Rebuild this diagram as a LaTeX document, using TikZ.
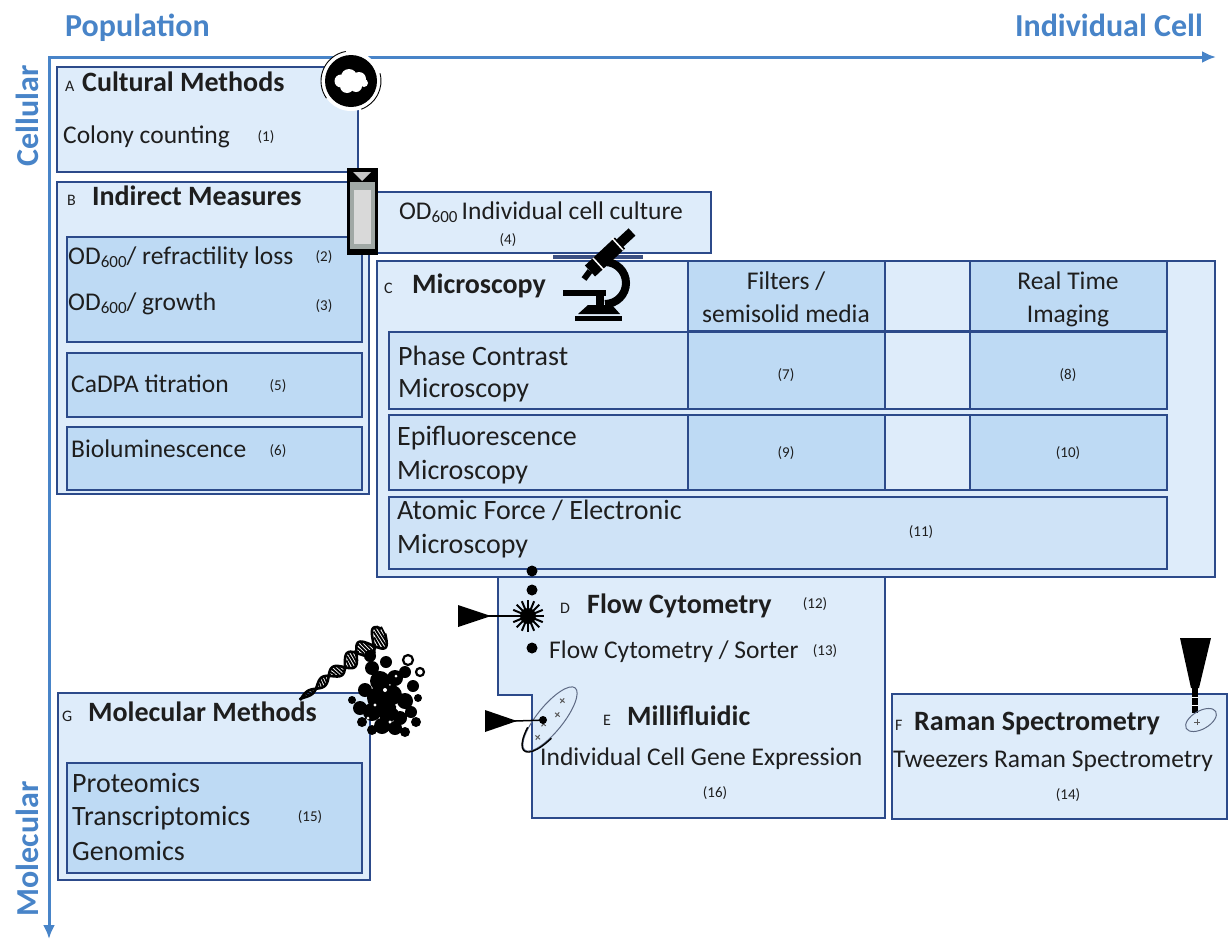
\documentclass[tikz,border=0pt]{standalone}
\usepackage{fontspec}
\setmainfont{Carlito}
\usetikzlibrary{arrows.meta}
\definecolor{axblue}{RGB}{72,132,200}
\definecolor{bfill}{RGB}{222,236,250}
\definecolor{cfill}{RGB}{190,218,244}
\definecolor{mfill}{RGB}{207,227,247}
\definecolor{bline}{RGB}{44,74,138}
\definecolor{txt}{RGB}{30,30,30}
\definecolor{tubegray}{RGB}{160,168,165}
\definecolor{slidebar}{RGB}{60,80,130}
\newcommand\fbody{\fontsize{25.5}{30}\selectfont}
\newcommand\fbig{\fontsize{28}{33}\selectfont}
\newcommand\ftitle{\fontsize{28}{33}\selectfont\bfseries}
\newcommand\ftag{\fontsize{16}{19}\selectfont}
\newcommand\fsmall{\fontsize{15}{18}\selectfont}
\newcommand\faxis{\fontsize{32}{36}\selectfont\bfseries}
\newcommand\subsix{\raisebox{-0.3ex}{\fontsize{17}{17}\selectfont 600}}
\newcommand\boxat[6]{\node[#2, anchor=north west, minimum width=#5pt-#3pt, minimum height=#6pt-#4pt] (#1) at (#3,-#4) {};}
\tikzset{
 outerbox/.style={draw=bline, fill=bfill, line width=2.2pt, inner sep=0pt, outer sep=0pt},
 cellbox/.style={draw=bline, fill=cfill, line width=2pt, inner sep=0pt, outer sep=0pt},
 midbox/.style={draw=bline, fill=mfill, line width=2pt, inner sep=0pt, outer sep=0pt},
 plainbox/.style={draw=bline, fill=bfill, line width=2pt, inner sep=0pt, outer sep=0pt},
 lbl/.style={anchor=base west, inner sep=0pt, text=txt, font=\fbody},
 lblb/.style={anchor=base west, inner sep=0pt, text=txt, font=\fbig},
 ttl/.style={anchor=base west, inner sep=0pt, text=txt, font=\ftitle},
 tag/.style={anchor=base west, inner sep=0pt, text=txt, font=\ftag},
 num/.style={anchor=center, inner sep=0pt, text=txt, font=\fsmall},
 axlbl/.style={inner sep=0pt, text=axblue, font=\faxis},
 axisline/.style={draw=axblue, line width=3pt, {Latex[length=14pt,width=12pt]}-{Latex[length=14pt,width=12pt]}},
}
\begin{document}
\begin{tikzpicture}[x=1pt,y=1pt]
\useasboundingbox (0,0) rectangle (1229,-940);
\fill[white] (0,0) rectangle (1229,-940);

% axes
\coordinate (O) at (49,-57);
\coordinate (Xend) at (1216,-57);
\coordinate (Yend) at (49,-939);
\draw[axisline] (Yend) -- (O) -- (Xend);
\node[axlbl, anchor=base west] (pop) at (65,-36) {Population};
\node[axlbl, anchor=base east] (ind) at (1203,-36) {Individual Cell};
\node[axlbl, rotate=90] (cel) at (27,-116) {Cellular};
\node[axlbl, rotate=90] (mol) at (27,-849) {Molecular};

% A
\boxat{A}{outerbox}{57}{67}{358}{172}
\node[tag] (Atag) at (65,-91) {A};
\node[ttl] (Attl) at (82,-91) {Cultural Methods};
\node[lbl] (A1) at (63,-143) {Colony counting};
\node[num] (n1) at (266,-137) {(1)};

% B
\boxat{B}{outerbox}{57}{182}{369}{494}
\node[tag] (Btag) at (67,-205) {B};
\node[ttl] (Bttl) at (92,-205) {Indirect Measures};
\boxat{B1}{cellbox}{67}{237}{362}{342}
\node[lbl] (B1a) at (68,-264) {OD\subsix/ refractility loss};
\node[num] (n2) at (324,-257) {(2)};
\node[lbl] (B1b) at (68,-310) {OD\subsix/ growth};
\node[num] (n3) at (324,-306) {(3)};
\boxat{B2}{cellbox}{67}{353}{362}{417}
\node[lbl] (B2a) at (71,-392) {CaDPA titration};
\node[num] (n5) at (278,-386) {(5)};
\boxat{B3}{cellbox}{67}{427}{362}{490}
\node[lbl] (B3a) at (71,-457) {Bioluminescence};
\node[num] (n6) at (278,-451) {(6)};

% OD individual
\boxat{OD}{plainbox}{372}{192}{711}{253}
\node[lbl, anchor=base] (ODt) at (541,-219) {OD\subsix\,Individual cell culture};
\node[num] (n4) at (508,-240) {(4)};

% D/E polygon
\path[draw=bline, fill=bfill, line width=2.2pt] (498,-577) -- (498,-695) -- (532,-695) -- (532,-818) -- (885,-818) -- (885,-577);

% C
\boxat{C}{outerbox}{377}{261}{1215}{577}
\boxat{H1}{cellbox}{688}{261}{885}{331}
\boxat{H2}{plainbox}{885}{261}{970}{331}
\boxat{H3}{cellbox}{970}{261}{1167}{331}
\boxat{R1}{midbox}{389}{332}{1167}{409}
\boxat{R1a}{cellbox}{688}{332}{885}{409}
\boxat{R1b}{plainbox}{885}{332}{970}{409}
\boxat{R1c}{cellbox}{970}{332}{1167}{409}
\boxat{R2}{midbox}{389}{415}{1167}{490}
\boxat{R2a}{cellbox}{688}{415}{885}{490}
\boxat{R2b}{plainbox}{885}{415}{970}{490}
\boxat{R2c}{cellbox}{970}{415}{1167}{490}
\boxat{R3}{midbox}{389}{497}{1167}{569}
\node[tag] (Ctag) at (384,-293) {C};
\node[ttl] (Cttl) at (412,-293) {Microscopy};
\node[lbl, anchor=base] (h1a) at (786,-289) {Filters /};
\node[lbl, anchor=base] (h1b) at (786,-322) {semisolid media};
\node[lbl, anchor=base] (h3a) at (1068,-289) {Real Time};
\node[lbl, anchor=base] (h3b) at (1068,-322) {Imaging};
\node[lblb] (r1a) at (398,-365) {Phase Contrast};
\node[lblb] (r1b) at (398,-397) {Microscopy};
\node[lblb] (r2a) at (397,-445) {Epifluorescence};
\node[lblb] (r2b) at (397,-479) {Microscopy};
\node[lblb] (r3a) at (397,-519) {Atomic Force / Electronic};
\node[lblb] (r3b) at (397,-553) {Microscopy};
\node[num] (n7) at (786,-375) {(7)};
\node[num] (n8) at (1068,-375) {(8)};
\node[num] (n9) at (786,-453) {(9)};
\node[num] (n10) at (1068,-453) {(10)};
\node[num] (n11) at (921,-532) {(11)};

% D/E texts
\node[tag] (Dtag) at (560,-613) {D};
\node[ttl] (Dttl) at (587,-613) {Flow Cytometry};
\node[num] (n12) at (815,-604) {(12)};
\node[lbl] (D1) at (549,-658) {Flow Cytometry / Sorter};
\node[num] (n13) at (825,-651) {(13)};
\node[tag] (Etag) at (603,-725) {E};
\node[ttl] (Ettl) at (627,-725) {Millifluidic};
\node[lbl] (E1) at (540,-765) {Individual Cell Gene Expression};
\node[num] (n16) at (715,-793) {(16)};

% F
\boxat{F}{outerbox}{892}{694}{1227}{819}
\node[tag] (Ftag) at (895,-730) {F};
\node[ttl] (Fttl) at (914,-730) {Raman Spectrometry};
\node[lbl] (F1) at (893,-767) {Tweezers Raman Spectrometry};
\node[num] (n14) at (1068,-795) {(14)};

% G
\boxat{G}{outerbox}{58}{693}{370}{880}
\node[tag] (Gtag) at (62,-721) {G};
\node[ttl] (Gttl) at (88,-721) {Molecular Methods};
\boxat{G1}{cellbox}{67}{763}{362}{873}
\node[lblb] (G1a) at (72,-792) {Proteomics};
\node[lblb] (G1b) at (72,-825) {Transcriptomics};
\node[lblb] (G1c) at (72,-860) {Genomics};
\node[num] (n15) at (310,-817) {(15)};

% ---- icons ----
% petri dish
\begin{scope}[shift={(351,-81)}]
\fill[white] (0,0) circle (30);
\fill[black] (0,0) circle (26);
\fill[white] (-10,0) circle (6.5) (-2,4) circle (8) (8,2) circle (7) (-4,-5) circle (7) (5,-5) circle (6) (13,-2) circle (4);
\draw[black, line width=0.9pt] (100:30) arc (100:215:30);
\draw[black, line width=0.9pt] (-70:30) arc (-70:15:30);
\end{scope}
% tube
\filldraw[fill=tubegray, draw=black, line width=3pt] (348,-169) rectangle (376,-253);
\fill[black] (348,-169) rectangle (376,-182);
\fill[gray!45] (353,-172) -- (371,-172) -- (362,-181) -- cycle;
\fill[gray!30] (354,-190) rectangle (371,-244);
\draw[black, line width=4pt] (348,-251) -- (376,-251);

% slide bar
\draw[slidebar, line width=3.5pt] (553,-257) -- (643,-257);
% microscope
\fill[black] (575,-316) rectangle (622,-321);
\fill[black] (578,-314) -- (620,-314) -- (612,-305) -- (588,-305) -- cycle;
\fill[black] (596,-296) rectangle (604,-305);
\fill[black] (563,-290) rectangle (606,-296);
\draw[black, line width=8pt] (605,-262) arc (90:-90:21);
\draw[black, line width=15pt] (590,-271) -- (620,-243);
\draw[black, line width=10pt] (619,-244) -- (632,-232);
\draw[black, line width=6pt] (590,-271) -- (584,-279);
\draw[white, line width=1.5pt] (593,-258) -- (604,-270);
\draw[white, line width=1.5pt] (612,-238) -- (623,-250);

% flow cytometry icon
\fill[black] (532,-571) circle (5.5);
\fill[black] (532,-590) circle (5.5);
\fill[black] (532,-648) circle (5.5);
\foreach \a in {0,22.5,...,337.5} \draw[black, line width=2pt] (528,-616) -- ++(\a:16);
\fill[black] (528,-616) circle (8);
\fill[black] (458,-605) -- (491,-616) -- (458,-627) -- cycle;
\draw[black, line width=1.5pt] (488,-616) -- (528,-616);

% millifluidic icon
\begin{scope}[shift={(550,-719)}, rotate=51]
\draw[gray!60!bline, line width=1pt] (0,0) ellipse (40 and 13);
\draw[black, line width=1.4pt] (-20.5,12.1) arc[start angle=120, end angle=250, x radius=41, y radius=14];
\foreach \p in {(22,2),(8,-3),(-8,2),(-22,-2)} \draw[gray!70!black, line width=1pt] \p ++(-3,0) -- ++(6,0) \p ++(0,-3) -- ++(0,6);
\end{scope}
\fill[black] (485,-710) -- (517,-721) -- (485,-732) -- cycle;
\draw[black, line width=1.5pt] (515,-721) -- (546,-720);
\fill[black] (543,-720) circle (4);

% raman icon
\fill[black] (1180,-638) -- (1211,-638) -- (1199,-688) -- (1191,-688) -- cycle;
\fill[black] (1192,-688) rectangle (1198,-713);
\draw[white, line width=0.8pt] (1192,-697) -- (1198,-697) (1192,-705) -- (1198,-705);
\draw[gray!60!bline, line width=1pt, rotate around={30:(1201,-720)}] (1201,-720) ellipse (17 and 9);
\draw[gray!70!black, line width=0.8pt] (1194,-722) -- (1200,-722) (1197,-719) -- (1197,-725);

% DNA helix
\begin{scope}[shift={(300,-700)}, rotate=38]
\foreach \t in {2,5,...,107} \draw[black, line width=1.8pt] (\t,{(1.5+0.1*\t)*sin(10*\t)}) -- (\t+2,{(1.5+0.1*\t)*sin(10*\t+150)});
\draw[black, line width=2.6pt] plot[domain=0:108, samples=90, smooth] (\x, {(1.5+0.1*\x)*sin(10*\x)});
\draw[black, line width=2.6pt] plot[domain=0:108, samples=90, smooth] (\x, {(1.5+0.1*\x)*sin(10*\x+150)});
\end{scope}
% protein cluster
\fill[black] (372,-668) circle (7) (380,-681) circle (10) (395,-678) circle (8) (405,-672) circle (6)
 (413,-686) circle (6) (365,-690) circle (7) (378,-698) circle (11) (392,-695) circle (10)
 (405,-701) circle (8) (360,-708) circle (7) (372,-712) circle (9) (388,-712) circle (10)
 (400,-718) circle (7) (411,-712) circle (6) (382,-726) circle (8) (395,-728) circle (7)
 (362,-722) circle (5) (370,-656) circle (6) (386,-662) circle (6) (416,-722) circle (5)
 (352,-700) circle (4) (418,-698) circle (4) (372,-730) circle (5) (405,-732) circle (5);
\draw[black, line width=2.2pt] (408,-660) circle (5) (420,-672) circle (4);
\fill[white] (385,-690) circle (2) (398,-708) circle (2) (375,-705) circle (1.6) (404,-685) circle (2) (381,-668) circle (1.8) (390,-722) circle (1.6) (368,-718) circle (1.5) (396,-676) circle (1.5);
\end{tikzpicture}
\end{document}
